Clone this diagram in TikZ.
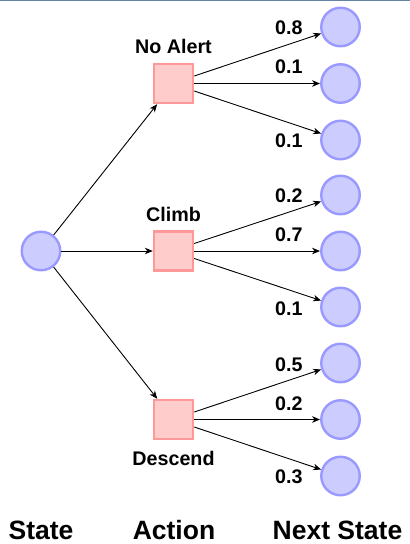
\documentclass[tikz,border=0pt]{standalone}
\usepackage{fontspec}
\setmainfont{Liberation Sans}
\usetikzlibrary{arrows.meta}
\definecolor{statefill}{HTML}{CCCCFF}
\definecolor{statedraw}{HTML}{9999FF}
\definecolor{actfill}{HTML}{FFCCCC}
\definecolor{actdraw}{HTML}{FF9999}
\definecolor{rulecol}{RGB}{100,132,162}
\tikzset{
  statenode/.style={circle, fill=statefill, draw=statedraw, line width=2.4pt,
    minimum size=38.5pt, inner sep=0pt},
  actnode/.style={rectangle, fill=actfill, draw=actdraw, line width=2.4pt,
    minimum size=39pt, inner sep=0pt},
  edge/.style={draw=black, line width=0.9pt,
    -{Stealth[length=8pt,width=6.5pt,inset=2.5pt]}},
  smalllabel/.style={font=\bfseries\fontsize{19.7}{24}\selectfont, inner sep=0pt, anchor=base},
  problabel/.style={font=\bfseries\fontsize{19.7}{24}\selectfont, inner sep=0pt, anchor=base west},
  biglabel/.style={font=\bfseries\fontsize{26.5}{32}\selectfont, inner sep=0pt, anchor=base},
}
\begin{document}
\begin{tikzpicture}[x=1pt,y=-1pt]
  \useasboundingbox (0,0) rectangle (410,544);
  \draw[rulecol, line width=1.2pt] (0,0.6) -- (410,0.6);

  % current state
  \node[statenode] (s) at (41,251) {};

  % actions
  \node[actnode] (na) at (173.5,83.5) {};
  \node[actnode] (cl) at (173.5,251) {};
  \node[actnode] (de) at (173.5,419.5) {};

  \node[smalllabel] (lna) at (173.5,53) {No Alert};
  \node[smalllabel] (lcl) at (173.5,221.5) {Climb};
  \node[smalllabel] (lde) at (173.5,465) {Descend};

  % next states
  \node[statenode] (n1) at (340.5,27) {};
  \node[statenode] (n2) at (340.5,83.5) {};
  \node[statenode] (n3) at (340.5,140) {};
  \node[statenode] (n4) at (340.5,195) {};
  \node[statenode] (n5) at (340.5,251) {};
  \node[statenode] (n6) at (340.5,307) {};
  \node[statenode] (n7) at (340.5,363) {};
  \node[statenode] (n8) at (340.5,419.5) {};
  \node[statenode] (n9) at (340.5,476) {};

  % state -> action
  \draw[edge] (s) -- (na);
  \draw[edge] (s) -- (cl);
  \draw[edge] (s) -- (de);

  % action -> next state (yshift works in page units, so positive is upward)
  \draw[edge] ([yshift=7.5pt]na.east) -- (n1);
  \draw[edge] (na.east) -- (n2);
  \draw[edge] ([yshift=-7.5pt]na.east) -- (n3);
  \draw[edge] ([yshift=7.5pt]cl.east) -- (n4);
  \draw[edge] (cl.east) -- (n5);
  \draw[edge] ([yshift=-7.5pt]cl.east) -- (n6);
  \draw[edge] ([yshift=7.5pt]de.east) -- (n7);
  \draw[edge] (de.east) -- (n8);
  \draw[edge] ([yshift=-7.5pt]de.east) -- (n9);

  % transition probabilities
  \node[problabel] (p1) at (275,34.5) {0.8};
  \node[problabel] (p2) at (275,73) {0.1};
  \node[problabel] (p3) at (275,147) {0.1};
  \node[problabel] (p4) at (275,202.5) {0.2};
  \node[problabel] (p5) at (275,241) {0.7};
  \node[problabel] (p6) at (275,315) {0.1};
  \node[problabel] (p7) at (275,371) {0.5};
  \node[problabel] (p8) at (275,410) {0.2};
  \node[problabel] (p9) at (275,483) {0.3};

  % column headings
  \node[biglabel] (hs) at (41,539.5) {State};
  \node[biglabel] (ha) at (174,539.5) {Action};
  \node[biglabel] (hn) at (337.5,539.5) {Next State};
\end{tikzpicture}
\end{document}
